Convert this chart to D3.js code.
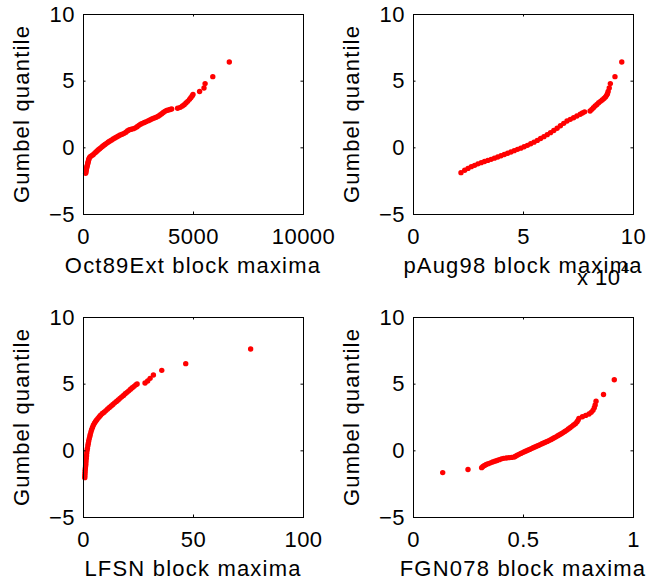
<!DOCTYPE html>
<html>
<head>
<meta charset="utf-8">
<script src="https://cdn.jsdelivr.net/npm/d3@7"></script>
<style>
  body { margin: 0; background: #fff; }
  text { font-family: "Liberation Sans", Arial, Helvetica, sans-serif; fill: #000; }
</style>
</head>
<body>
<div id="wrapper"></div>
<script>
// Gumbel QQ plots

// Oct89Ext
var oct89X = [120, 130, 140, 150, 165, 180, 195, 210, 225, 240, 255, 275, 300, 340, 400, 460, 520, 580, 640, 700,
  760, 820, 880, 940, 1000, 1070, 1140, 1210, 1290, 1370, 1450, 1530, 1610, 1690, 1780, 1870, 1950, 2030, 2110, 2200,
  2290, 2380, 2460, 2540, 2620, 2700, 2790, 2880, 2970, 3060, 3150, 3240, 3330, 3420, 3500, 3580, 3650, 3720, 3800, 3880,
  3960, 4030, 4300, 4420, 4520, 4600, 4680, 4760, 4840, 4900, 4960, 5000, 5300, 5500, 5550, 5900, 6650];
var oct89Y = [-1.95, -1.85, -1.75, -1.65, -1.55, -1.45, -1.35, -1.25, -1.15, -1.05, -0.95, -0.85, -0.75, -0.68, -0.62, -0.55, -0.45, -0.36, -0.27, -0.18,
  -0.1, -0.02, 0.06, 0.14, 0.22, 0.3, 0.38, 0.46, 0.54, 0.62, 0.7, 0.78, 0.85, 0.92, 0.98, 1.05, 1.14, 1.24, 1.32, 1.36,
  1.4, 1.46, 1.55, 1.65, 1.74, 1.8, 1.86, 1.93, 2.0, 2.07, 2.14, 2.2, 2.26, 2.34, 2.42, 2.52, 2.62, 2.7, 2.76, 2.8,
  2.84, 2.87, 2.93, 3.0, 3.1, 3.2, 3.32, 3.45, 3.6, 3.72, 3.85, 3.96, 4.19, 4.45, 4.78, 5.3, 6.4];

// pAug98
var aug98X = [21800, 23500, 25000, 26500, 28000, 29500, 31000, 32500, 34000, 35500, 37000, 38500, 40000, 41500, 43000, 44500, 46000, 47500, 49000, 50500,
  52000, 53500, 55000, 56500, 58000, 59500, 61000, 62500, 64000, 65500, 67000, 68500, 70000, 71500, 73000, 74500, 76000, 77000, 78000, 80500,
  81300, 82000, 82800, 83600, 84400, 85200, 86000, 86800, 87500, 88000, 88400, 88700, 89200, 89700, 91800, 94900];
var aug98Y = [-1.9, -1.72, -1.58, -1.45, -1.35, -1.24, -1.15, -1.06, -0.98, -0.9, -0.81, -0.72, -0.63, -0.54, -0.44, -0.35, -0.25, -0.15, -0.06, 0.04,
  0.15, 0.27, 0.39, 0.52, 0.66, 0.8, 0.95, 1.1, 1.26, 1.43, 1.62, 1.8, 1.98, 2.1, 2.22, 2.35, 2.48, 2.58, 2.66, 2.72,
  2.85, 2.97, 3.1, 3.22, 3.35, 3.45, 3.55, 3.66, 3.78, 3.9, 4.02, 4.19, 4.45, 4.78, 5.3, 6.4];

// LFSN
var lfsnX = [0.8, 0.85, 0.9, 0.95, 1.0, 1.1, 1.2, 1.3, 1.4, 1.5, 1.6, 1.7, 1.85, 2.0, 2.2, 2.4, 2.6, 2.85, 3.1, 3.3,
  3.6, 3.9, 4.3, 4.7, 5.2, 5.7, 6.2, 6.8, 7.4, 8.0, 8.8, 9.6, 10.4, 11.2, 12.0, 12.8, 13.6, 14.4, 15.2, 16.0,
  16.8, 17.6, 18.4, 19.2, 20.0, 20.8, 21.6, 22.4, 23.2, 24.0, 24.6, 28.2, 29.4, 30.5, 32.0, 35.8, 46.7, 76.2];
var lfsnY = [-2.05, -1.9, -1.75, -1.6, -1.45, -1.3, -1.15, -1.0, -0.8, -0.6, -0.4, -0.2, 0.0, 0.15, 0.35, 0.52, 0.7, 0.88, 1.05, 1.2,
  1.38, 1.54, 1.72, 1.88, 2.03, 2.17, 2.28, 2.4, 2.52, 2.63, 2.76, 2.86, 2.98, 3.1, 3.22, 3.33, 3.44, 3.56, 3.67, 3.78,
  3.9, 4.01, 4.12, 4.24, 4.35, 4.46, 4.58, 4.69, 4.8, 4.91, 4.98, 5.05, 5.2, 5.4, 5.65, 6.0, 6.5, 7.6];

// FGN078
var fgnX = [0.135, 0.25, 0.312, 0.318, 0.325, 0.333, 0.342, 0.352, 0.362, 0.372, 0.382, 0.392, 0.402, 0.412, 0.424, 0.436, 0.448, 0.46, 0.466, 0.474,
  0.482, 0.49, 0.498, 0.506, 0.514, 0.522, 0.53, 0.538, 0.546, 0.554, 0.562, 0.57, 0.578, 0.586, 0.594, 0.602, 0.61, 0.618, 0.626, 0.634,
  0.642, 0.65, 0.658, 0.666, 0.674, 0.682, 0.69, 0.698, 0.706, 0.714, 0.722, 0.73, 0.738, 0.745, 0.75, 0.754, 0.77, 0.785, 0.8, 0.81,
  0.818, 0.824, 0.828, 0.832, 0.866, 0.915];
var fgnY = [-1.67, -1.44, -1.3, -1.21, -1.13, -1.06, -1.0, -0.94, -0.88, -0.82, -0.76, -0.7, -0.64, -0.6, -0.57, -0.55, -0.53, -0.5, -0.44, -0.37,
  -0.3, -0.23, -0.17, -0.11, -0.05, 0.01, 0.07, 0.13, 0.19, 0.25, 0.31, 0.37, 0.43, 0.49, 0.55, 0.61, 0.67, 0.73, 0.8, 0.87,
  0.94, 1.01, 1.09, 1.17, 1.25, 1.33, 1.41, 1.5, 1.6, 1.7, 1.8, 1.9, 2.0, 2.12, 2.25, 2.4, 2.52, 2.62, 2.72, 2.85,
  3.0, 3.2, 3.4, 3.68, 4.19, 5.29];

var yTicks = [-5, 0, 5, 10];
var yLabel = "Gumbel quantile";
var xLabels = ["Oct89Ext block maxima", "pAug98 block maxima", "LFSN block maxima", "FGN078 block maxima"];
var xTicks = [[0, 5000, 10000], [0, 50000, 100000], [0, 50, 100], [0, 0.5, 1]];
var xMax = [10000, 100000, 100, 1];

var series = [
  { xs: oct89X, ys: oct89Y, fmt: d3.format("d") },
  { xs: aug98X, ys: aug98Y, fmt: function (d) { return d / 1e4; } },
  { xs: lfsnX, ys: lfsnY, fmt: d3.format("d") },
  { xs: fgnX, ys: fgnY, fmt: function (d) { return d; } }
];

var width = 659, height = 582;
var boxW = 220, boxH = 200;
var lefts = [83, 413], tops = [14, 317];

var svg = d3.select("#wrapper").append("svg")
  .attr("width", width)
  .attr("height", height);

series.forEach(function (s, i) {
  var ox = lefts[i % 2], oy = tops[Math.floor(i / 2)];
  var g = svg.append("g").attr("transform", "translate(" + ox + "," + oy + ")");

  var x = d3.scaleLinear().domain([0, xMax[i]]).range([0, boxW]);
  var y = d3.scaleLinear().domain([-5, 10]).range([boxH, 0]);

  // dots
  g.selectAll("circle")
    .data(d3.zip(s.xs, s.ys))
    .enter().append("circle")
    .attr("cx", function (d) { return x(d[0]); })
    .attr("cy", function (d) { return y(d[1]); })
    .attr("r", 2.7)
    .attr("fill", "#ff0000");

  // box
  g.append("rect")
    .attr("width", boxW).attr("height", boxH)
    .attr("fill", "none").attr("stroke", "#000").attr("stroke-width", 1)
    .attr("shape-rendering", "crispEdges");

  var xb = g.append("g").attr("transform", "translate(0," + boxH + ")")
    .call(d3.axisBottom(x).tickValues(xTicks[i]).tickFormat(s.fmt).tickSizeInner(-2.5).tickSizeOuter(0).tickPadding(14));
  var xt = g.append("g")
    .call(d3.axisTop(x).tickValues(xTicks[i]).tickFormat("").tickSizeInner(-2.5).tickSizeOuter(0));
  var yl = g.append("g")
    .call(d3.axisLeft(y).tickValues(yTicks).tickSizeInner(-2.5).tickSizeOuter(0).tickPadding(8));
  var yr = g.append("g").attr("transform", "translate(" + boxW + ",0)")
    .call(d3.axisRight(y).tickValues(yTicks).tickFormat("").tickSizeInner(-2.5).tickSizeOuter(0));

  [xb, xt, yl, yr].forEach(function (a) {
    a.select(".domain").remove();
    a.selectAll("line").attr("stroke", "#000");
    a.selectAll("text")
      .attr("font-size", 22)
      .style("letter-spacing", "0.5px")
      .attr("fill", "#000");
  });
  yl.selectAll("text").attr("dy", "0.33em");

  g.append("text")
    .attr("x", boxW / 2).attr("y", boxH + 59)
    .attr("text-anchor", "middle")
    .attr("font-size", 22)
    .style("letter-spacing", "1.2px")
    .text(xLabels[i]);

  g.append("text")
    .attr("transform", "translate(-54," + (boxH / 2) + ") rotate(-90)")
    .attr("text-anchor", "middle")
    .attr("font-size", 22)
    .style("letter-spacing", "1.2px")
    .text(yLabel);

  // exponent label for the pAug98 axis
  if (i === 1) {
    g.append("text")
      .attr("x", 164).attr("y", boxH + 71)
      .attr("font-size", 22)
      .style("letter-spacing", "0.5px")
      .text("x 10");
    g.append("text")
      .attr("x", 208).attr("y", boxH + 59)
      .attr("font-size", 15)
      .text("4");
  }
});
</script>
</body>
</html>
